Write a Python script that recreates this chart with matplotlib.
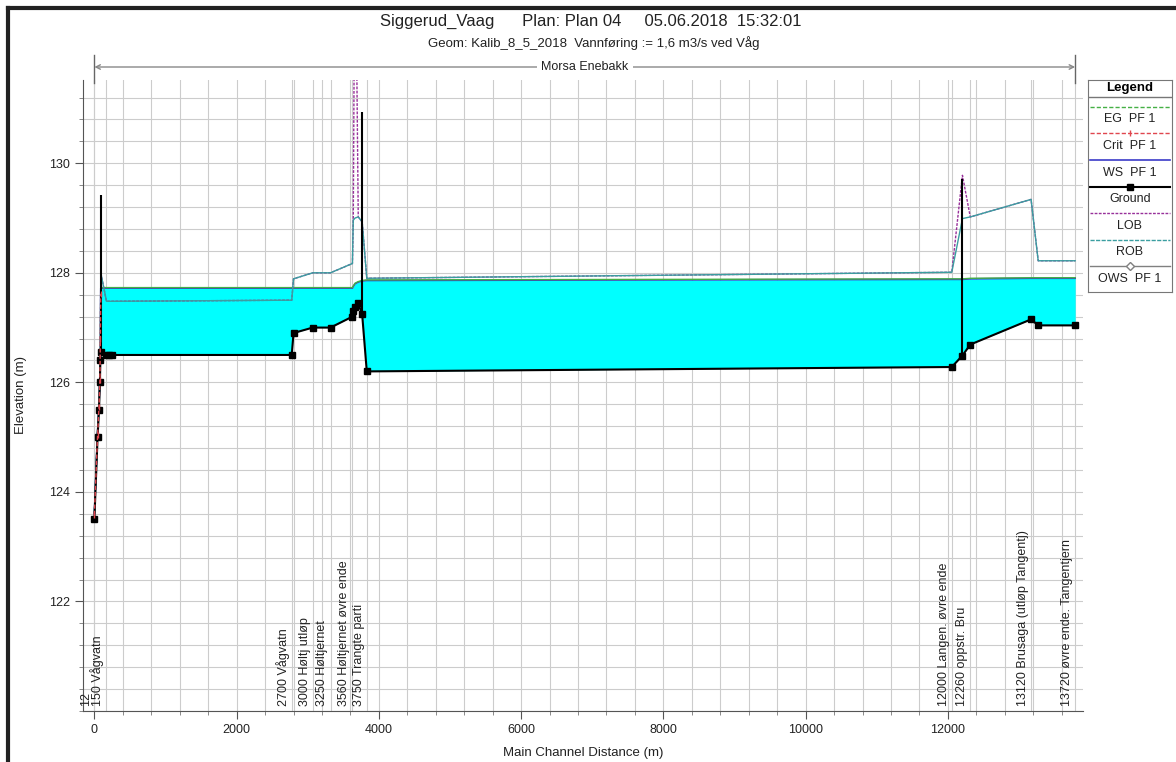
import numpy as np
import matplotlib
matplotlib.use("Agg")
import matplotlib.pyplot as plt
from matplotlib.lines import Line2D
from matplotlib.transforms import offset_copy

plt.rcParams['font.family'] = ['Liberation Sans', 'DejaVu Sans']

# profile along the main channel (m from downstream end)
dist = [0, 45, 65, 78, 84, 90, 170, 200, 250, 2775, 2800, 3070, 3320, 3628, 3640,
        3665, 3710, 3765, 3830, 12055, 12205, 12315, 13170, 13270, 13790]
ground = [123.5, 125.0, 125.5, 126.0, 126.4, 126.55, 126.5, 126.5, 126.5, 126.5, 126.9,
          127.0, 127.0, 127.2, 127.3, 127.38, 127.44, 127.24, 126.2, 126.28, 126.49,
          126.69, 127.15, 127.04, 127.04]
ws = [123.6, 125.1, 125.6, 126.1, 126.6, 127.72, 127.72, 127.72, 127.72, 127.72, 127.72,
      127.72, 127.72, 127.72, 127.75, 127.8, 127.83, 127.85, 127.86, 127.88, 127.88,
      127.89, 127.9, 127.9, 127.9]
eg = [123.62, 125.12, 125.62, 126.12, 126.63, 127.73, 127.73, 127.73, 127.73, 127.73, 127.73,
      127.73, 127.73, 127.73, 127.76, 127.81, 127.84, 127.86, 127.87, 127.89, 127.89,
      127.9, 127.91, 127.91, 127.91]
crit = [123.58, 125.03, 125.55, 126.05, 126.8, 127.62] + [np.nan] * 19
rob = [123.6, 125.1, 125.6, 126.1, 126.6, 128.0, 127.48, 127.48, 127.48, 127.5, 127.89,
       128.0, 128.0, 128.17, 128.96, 129.0, 129.02, 128.93, 127.9, 128.01, 128.99,
       129.02, 129.34, 128.22, 128.22]
lob = [123.6, 125.1, 125.6, 126.1, 126.6, 128.0, 127.48, 127.48, 127.48, 127.5, 127.89,
       128.0, 128.0, 128.17, 128.96, 135.0, 129.02, 128.93, 127.9, 128.01, 129.78,
       129.02, 129.34, 128.22, 128.22]

# inline structures
struct_dist = [88, 3765, 12205]
struct_top = [129.42, 130.94, 129.72]

# labelled river stations
rs_dist = [0, 170, 2775, 3070, 3320, 3628, 3830, 12055, 12315, 13170, 13790]
rs_labels = ['12', '150 Vågvatn', '2700 Vågvatn', '3000 Høltj utløp', '3250 Høltjernet',
             '3560 Høltjernet øvre ende', '3750 Trangte parti', '12000 Langen. øvre ende',
             '12260 oppstr. Bru', '13120 Brusaga (utløp Tangentj)',
             '13720 øvre ende. Tangentjern']

W, H = 1176, 762
grid_col = '#cccccc'

styles = {
    'EG  PF 1': dict(color='#45b045', lw=1.0, ls=(0, (3, 1.5))),
    'Crit  PF 1': dict(color='#e0464e', lw=1.0, ls=(0, (3, 1.5)), marker='|', ms=4),
    'WS  PF 1': dict(color='#3b3bc8', lw=1.2),
    'Ground': dict(color='black', lw=1.5, marker='s', ms=4.5),
    'LOB': dict(color='#98309a', lw=1.0, ls=(0, (2, 1))),
    'ROB': dict(color='#3a9ea0', lw=1.0, ls=(0, (3, 1))),
    'OWS  PF 1': dict(color='#808080', lw=1.0, marker='D', ms=4, mfc='white'),
}

fig = plt.figure(figsize=(W / 100, H / 100), dpi=100)
ax = fig.add_axes([83 / W, 1 - 711 / H, 1000 / W, 631 / H])

ax.set_xlim(-160, 13900)
ax.set_ylim(120, 131.52)
ax.set_xticks(np.arange(0, 13000, 2000))
ax.set_xticks(np.arange(0, 13900, 400), minor=True)
ax.set_yticks(np.arange(122, 131, 2))
ax.set_yticks(np.arange(120, 131.6, 0.4), minor=True)
ax.grid(True, which='both', color=grid_col, lw=0.8)
ax.set_axisbelow(True)
for d in rs_dist:
    ax.axvline(d, color=grid_col, lw=0.8, zorder=0.5)

ax.fill_between(dist, ground, ws, where=np.array(ws) >= np.array(ground),
                color='#00ffff', lw=0, zorder=1)
ax.plot(dist, ws, **styles['WS  PF 1'], zorder=2)
ax.plot(dist, eg, color='#45b045', lw=1.0, zorder=2.2)
ax.plot(dist, lob, color='#98309a', lw=1.0, ls=(0, (2, 1)), zorder=2.4)
ax.plot(dist, rob, color='#3a9ea0', lw=1.0, zorder=2.6)
ax.plot(dist, crit, **styles['Crit  PF 1'], zorder=3.2)
ax.plot(dist, ground, **styles['Ground'], zorder=3)
ax.vlines(struct_dist, np.interp(struct_dist, dist, ground), struct_top,
          color='black', lw=1.5, zorder=3)

# station names along the bottom
lab_tr = offset_copy(ax.transData, fig=fig, x=-1.5, y=0, units='points')
for d, lab in zip(rs_dist, rs_labels):
    ax.text(d, 120.1, lab, rotation=90, ha='right', va='bottom', fontsize=9,
            transform=lab_tr, color='#222222')

for side in ['top', 'right']:
    ax.spines[side].set_visible(False)
for side in ['left', 'bottom']:
    ax.spines[side].set_color('#555555')
ax.tick_params(which='major', direction='out', length=6, color='#555555',
               labelsize=9, labelcolor='#222222')
ax.tick_params(which='minor', direction='out', length=3, color='#777777')
ax.set_xlabel('Main Channel Distance (m)', fontsize=9.5, color='#222222', labelpad=8)
ax.set_ylabel('Elevation (m)', fontsize=9.5, color='#222222', labelpad=16)

# reach marker above the plot
xtr = ax.get_xaxis_transform()
reach_y = 1 + 13 / 631
mid = (rs_dist[0] + rs_dist[-1]) / 2
for end in [rs_dist[0], rs_dist[-1]]:
    ax.annotate('', xy=(end, reach_y), xytext=(mid, reach_y), xycoords=xtr, textcoords=xtr,
                arrowprops=dict(arrowstyle='->', color='#888888', lw=1.0,
                                shrinkA=0, shrinkB=0, mutation_scale=8),
                annotation_clip=False)
    ax.plot([end, end], [1 + 25 / 631, 1 - 3 / 631], transform=xtr, color='#666666',
            lw=1.0, clip_on=False)
ax.text(mid, reach_y, 'Morsa Enebakk', transform=xtr, ha='center', va='center',
        fontsize=9, color='#222222',
        bbox=dict(facecolor='white', edgecolor='none', pad=3))

fig.text(0.502, 1 - 21 / H,
         'Siggerud_Vaag      Plan: Plan 04     05.06.2018  15:32:01',
         ha='center', va='center', fontsize=12, color='#222222')
fig.text(0.505, 1 - 43 / H,
         'Geom: Kalib_8_5_2018  Vannføring := 1,6 m3/s ved Våg',
         ha='center', va='center', fontsize=9.5, color='#222222')

# legend box on the right
lax = fig.add_axes([1088 / W, 1 - 292 / H, 84 / W, 212 / H])
lax.set_xlim(0, 84)
lax.set_ylim(212, 0)
lax.set_xticks([])
lax.set_yticks([])
for sp in lax.spines.values():
    sp.set_color('#777777')
lax.axhline(17, color='#777777', lw=1.0)
lax.text(42, 8.5, 'Legend', ha='center', va='center', fontsize=9.5, weight='bold')
for i, (name, st) in enumerate(styles.items()):
    y_line = 26.7 + 26.6 * i
    lax.plot([2, 42, 82], [y_line] * 3, markevery=[1], **st)
    lax.text(42, y_line + 12.6, name, ha='center', va='center', fontsize=9,
             color='#222222')

# outer frame
fig.add_artist(Line2D([8 / W, 8 / W], [0, 1 - 8 / H], transform=fig.transFigure,
                      color='#222222', lw=3))
fig.add_artist(Line2D([8 / W, 1], [1 - 8 / H, 1 - 8 / H], transform=fig.transFigure,
                      color='#222222', lw=3))

fig.savefig('out.png', dpi=100)
